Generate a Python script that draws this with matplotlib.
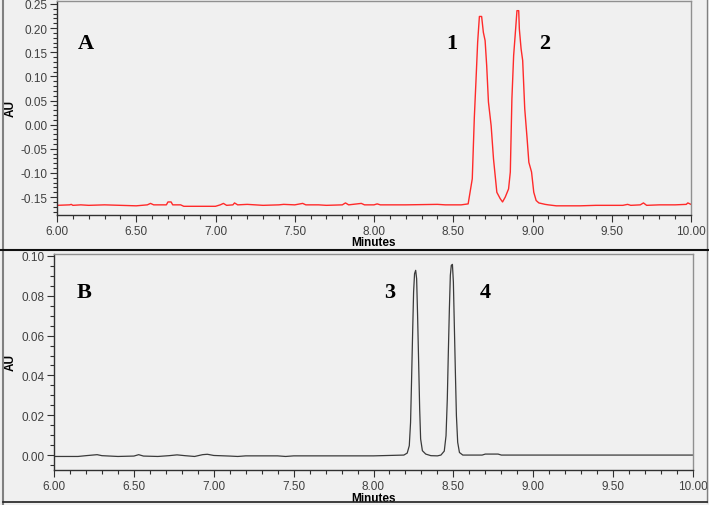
import numpy as np
import matplotlib
matplotlib.use("Agg")
from matplotlib import pyplot as plt
from matplotlib.ticker import MultipleLocator, FormatStrFormatter
from matplotlib.lines import Line2D

# chromatogram A (red trace)
time_a = [6.00, 6.08, 6.09, 6.10, 6.15, 6.20, 6.30, 6.40, 6.50, 6.57, 6.59, 6.61,
          6.69, 6.70, 6.72, 6.73, 6.78, 6.80, 6.90, 7.00, 7.03, 7.05, 7.07, 7.11,
          7.12, 7.14, 7.20, 7.25, 7.30, 7.40, 7.43, 7.50, 7.55, 7.57, 7.65, 7.70,
          7.80, 7.82, 7.84, 7.92, 7.94, 8.00, 8.02, 8.04, 8.20, 8.40, 8.45, 8.55,
          8.594, 8.620, 8.633, 8.643, 8.654, 8.665, 8.679, 8.690, 8.701, 8.711,
          8.722, 8.739, 8.754, 8.775, 8.796, 8.811, 8.828, 8.849, 8.860, 8.870,
          8.881, 8.892, 8.902, 8.913, 8.917, 8.928, 8.938, 8.951, 8.966, 8.977,
          8.994, 9.008, 9.023, 9.04, 9.08, 9.10, 9.15, 9.20, 9.30, 9.40, 9.50,
          9.57, 9.60, 9.62, 9.68, 9.70, 9.72, 9.80, 9.90, 9.97, 9.98, 10.00]
au_a = [-0.167, -0.166, -0.165, -0.167, -0.166, -0.167, -0.166, -0.167, -0.168, -0.166, -0.163, -0.166,
        -0.166, -0.160, -0.160, -0.166, -0.166, -0.169, -0.169, -0.169, -0.166, -0.163, -0.167, -0.166,
        -0.162, -0.166, -0.165, -0.166, -0.167, -0.166, -0.165, -0.166, -0.163, -0.166, -0.166, -0.167,
        -0.166, -0.162, -0.166, -0.163, -0.166, -0.166, -0.164, -0.166, -0.166, -0.165, -0.166, -0.166,
        -0.164, -0.112, 0.015, 0.088, 0.171, 0.224, 0.224, 0.191, 0.174, 0.122,
        0.047, -0.002, -0.071, -0.140, -0.153, -0.160, -0.150, -0.133, -0.098, 0.053,
        0.143, 0.191, 0.236, 0.236, 0.198, 0.157, 0.133, 0.033, -0.029, -0.078,
        -0.098, -0.140, -0.157, -0.162, -0.165, -0.166, -0.168, -0.168, -0.168, -0.167, -0.167,
        -0.167, -0.165, -0.167, -0.166, -0.162, -0.167, -0.166, -0.166, -0.165, -0.162, -0.165]

# chromatogram B (dark trace)
time_b = [6.00, 6.15, 6.20, 6.27, 6.30, 6.40, 6.50, 6.53, 6.56, 6.65, 6.72, 6.77,
          6.82, 6.88, 6.93, 6.96, 7.00, 7.10, 7.15, 7.20, 7.40, 7.45, 7.50, 8.00,
          8.190, 8.211, 8.224, 8.232, 8.238, 8.245, 8.251, 8.257, 8.264, 8.270,
          8.276, 8.283, 8.289, 8.295, 8.306, 8.327, 8.359, 8.40, 8.422, 8.443,
          8.454, 8.462, 8.468, 8.475, 8.481, 8.487, 8.494, 8.500, 8.506, 8.513,
          8.519, 8.527, 8.538, 8.559, 8.68, 8.70, 8.78, 8.80, 10.00]
au_b = [-0.0007, -0.0007, -0.0003, 0.0002, -0.0003, -0.0007, -0.0005, 0.0002, -0.0005, -0.0007, -0.0003, 0.0001,
        -0.0003, -0.0007, 0.0002, 0.0004, -0.0002, -0.0005, -0.0007, -0.0004, -0.0004, -0.0007, -0.0004, -0.0004,
        0.0000, 0.0010, 0.0047, 0.0164, 0.0366, 0.0617, 0.0819, 0.0911, 0.0928, 0.0886,
        0.0701, 0.0450, 0.0232, 0.0081, 0.0022, 0.0005, -0.0003, -0.0004, 0.0000, 0.0020,
        0.0097, 0.0282, 0.0500, 0.0735, 0.0903, 0.0953, 0.0958, 0.0869, 0.0651, 0.0400,
        0.0198, 0.0064, 0.0013, 0.0000, 0.0000, 0.0005, 0.0005, 0.0000, 0.0000]

labels_a = ["A", "1", "2"]
labels_a_pos = [(6.18, 0.17), (8.49, 0.17), (9.08, 0.17)]
labels_b = ["B", "3", "4"]
labels_b_pos = [(6.19, 0.082), (8.10, 0.082), (8.70, 0.082)]

bg = "#f0f0f0"
plt.rcParams["font.family"] = ["Liberation Sans", "DejaVu Sans"]

fig = plt.figure(figsize=(7.09, 5.06), dpi=100, facecolor=bg)
ax_a = fig.add_axes([57/709, 1-216/506, (691-57)/709, (216-2)/506])
ax_b = fig.add_axes([54/709, 1-471/506, (693-54)/709, (471-255)/506])


def style(ax, ymin, ymax, major, minor):
    ax.set_facecolor(bg)
    ax.set_xlim(6.0, 10.0)
    ax.set_ylim(ymin, ymax)
    ax.xaxis.set_major_locator(MultipleLocator(0.5))
    ax.xaxis.set_minor_locator(MultipleLocator(0.1))
    ax.yaxis.set_major_locator(MultipleLocator(major))
    ax.yaxis.set_minor_locator(MultipleLocator(minor))
    ax.xaxis.set_major_formatter(FormatStrFormatter("%.2f"))
    ax.yaxis.set_major_formatter(FormatStrFormatter("%.2f"))
    ax.tick_params(which="major", length=5, width=0.8, color="#303030",
                   labelsize=8.5, labelcolor="#404040", pad=2)
    ax.tick_params(which="minor", length=3, width=0.8, color="#303030")
    for s in ["left", "bottom"]:
        ax.spines[s].set_color("#303030")
        ax.spines[s].set_linewidth(1.0)
    for s in ["top", "right"]:
        ax.spines[s].set_color("#909090")
        ax.spines[s].set_linewidth(1.0)
    ax.set_ylabel("AU", fontsize=8.5, fontweight="bold", va="center")
    ax.set_xlabel("Minutes", fontsize=8.5, fontweight="bold")
    ax.xaxis.set_label_coords(0.5, -0.1)


style(ax_a, -0.187, 0.256, 0.05, 0.01)
style(ax_b, -0.0075, 0.101, 0.02, 0.005)
ax_a.yaxis.set_label_coords(-(57 - 11) / 634, 0.5)
ax_b.yaxis.set_label_coords(-(54 - 11) / 639, 0.5)

ax_a.plot(time_a, au_a, color="#ff2a2a", lw=1.0)
ax_b.plot(time_b, au_b, color="#3a3a3a", lw=0.9)

for t, (x, y) in zip(labels_a, labels_a_pos):
    ax_a.text(x, y, t, fontsize=16, fontweight="bold", family="Liberation Serif",
              ha="center", va="center")
for t, (x, y) in zip(labels_b, labels_b_pos):
    ax_b.text(x, y, t, fontsize=16, fontweight="bold", family="Liberation Serif",
              ha="center", va="center")

# panel frames
W, H = 709, 506
fig.add_artist(Line2D([2.5/W, 2.5/W], [0, 1], color="#808080", lw=1.5))
fig.add_artist(Line2D([707/W, 707/W], [1-503/H, 1], color="#808080", lw=1.0))
fig.add_artist(Line2D([0, 1], [1-251/H, 1-251/H], color="#101010", lw=1.5))
fig.add_artist(Line2D([2.5/W, 707/W], [1-503/H, 1-503/H], color="#202020", lw=1.2))

fig.savefig("out.png", dpi=100, facecolor=bg)
